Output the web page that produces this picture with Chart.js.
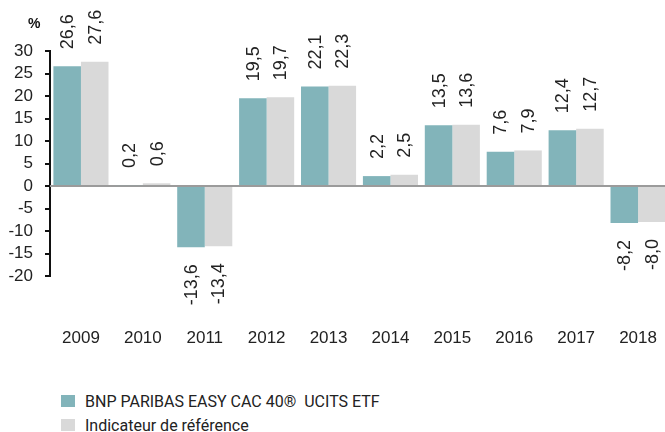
<!DOCTYPE html>
<html lang="fr">
<head>
  <meta charset="UTF-8">
  <title>Performances annuelles</title>
  <script src="https://cdn.jsdelivr.net/npm/chart.js"></script>
  <style>
    html, body { margin: 0; padding: 0; background: #fff; overflow: hidden; }
    body { width: 665px; height: 432px; position: relative; font-family: "Liberation Sans", Arial, sans-serif; }
    #perfChart { position: absolute; left: 0; top: 0; }
    .unit { position: absolute; left: 28px; top: 15px; font-size: 14px; font-weight: bold; color: #111; }
    .legend { position: absolute; left: 61px; top: 389px; font-family: "Roboto", sans-serif; font-size: 16px; color: #222; }
    .legend div { height: 24px; display: flex; align-items: center; }
    .legend span.box { display: inline-block; width: 14px; height: 12px; margin-right: 10px; }
  </style>
</head>
<body>
  <canvas id="perfChart" width="669" height="360"></canvas>
  <div class="unit">%</div>
  <div class="legend">
    <div><span class="box" style="background:#82b4ba"></span>BNP PARIBAS EASY CAC 40®&nbsp; UCITS ETF</div>
    <div><span class="box" style="background:#d9d9d9"></span>Indicateur de référence</div>
  </div>

  <script>
    const years = ['2009', '2010', '2011', '2012', '2013', '2014', '2015', '2016', '2017', '2018'];
    const fundValues = [26.6, 0.2, -13.6, 19.5, 22.1, 2.2, 13.5, 7.6, 12.4, -8.2];
    const indexValues = [27.6, 0.6, -13.4, 19.7, 22.3, 2.5, 13.6, 7.9, 12.7, -8.0];
    const seriesNames = ['BNP PARIBAS EASY CAC 40®  UCITS ETF', 'Indicateur de référence'];

    const tickFont = { size: 17, family: '"Liberation Sans", Arial, sans-serif' };

    // zero line across the plot
    const zeroLine = {
      id: 'zeroLine',
      beforeDatasetsDraw(chart) {
        const { ctx, chartArea, scales } = chart;
        const y = scales.y.getPixelForValue(0);
        ctx.save();
        ctx.strokeStyle = '#9b9b9b';
        ctx.lineWidth = 2;
        ctx.beginPath();
        ctx.moveTo(chartArea.left, y);
        ctx.lineTo(chartArea.right, y);
        ctx.stroke();
        ctx.restore();
      }
    };

    // rotated value labels above / below each bar
    const valueLabels = {
      id: 'valueLabels',
      afterDatasetsDraw(chart) {
        const ctx = chart.ctx;
        ctx.save();
        ctx.font = '18px "Liberation Sans", Arial, sans-serif';
        ctx.fillStyle = '#222';
        ctx.textBaseline = 'middle';
        chart.data.datasets.forEach((ds, i) => {
          chart.getDatasetMeta(i).data.forEach((bar, j) => {
            const v = ds.data[j];
            const txt = v.toFixed(1).replace('.', ',');
            ctx.save();
            if (v >= 0) {
              ctx.translate(bar.x, bar.y - 17);
              ctx.textAlign = 'left';
            } else {
              ctx.translate(bar.x, bar.y + 17);
              ctx.textAlign = 'right';
            }
            ctx.rotate(-Math.PI / 2);
            ctx.fillText(txt, 0, 1);
            ctx.restore();
          });
        });
        ctx.restore();
      }
    };

    new Chart(document.getElementById('perfChart'), {
      type: 'bar',
      data: {
        labels: years,
        datasets: [
          { label: seriesNames[0], data: fundValues, backgroundColor: '#82b4ba' },
          { label: seriesNames[1], data: indexValues, backgroundColor: '#d9d9d9' }
        ]
      },
      options: {
        responsive: false,
        animation: false,
        layout: { padding: { top: 51, left: 0, right: 0, bottom: 0 } },
        datasets: { bar: { categoryPercentage: 0.89, barPercentage: 1 } },
        plugins: { legend: { display: false }, tooltip: { enabled: false } },
        scales: {
          x: {
            grid: { display: false, drawTicks: false },
            border: { display: false },
            ticks: { padding: 52, color: '#222', font: tickFont, maxRotation: 0 },
            // big label gap below the plot; keep it from eating the right side
            afterFit(scale) {
              scale.height = 84;
              scale.paddingLeft = 0;
              scale.paddingRight = 0;
            }
          },
          y: {
            min: -20,
            max: 30,
            border: { color: '#111', width: 2 },
            grid: { drawOnChartArea: false, tickLength: 5, color: '#111', lineWidth: 2 },
            ticks: { stepSize: 5, autoSkip: false, padding: 12, color: '#222', font: tickFont },
            afterFit(scale) {
              scale.width = 50;
            }
          }
        }
      },
      plugins: [zeroLine, valueLabels]
    });
  </script>
</body>
</html>
